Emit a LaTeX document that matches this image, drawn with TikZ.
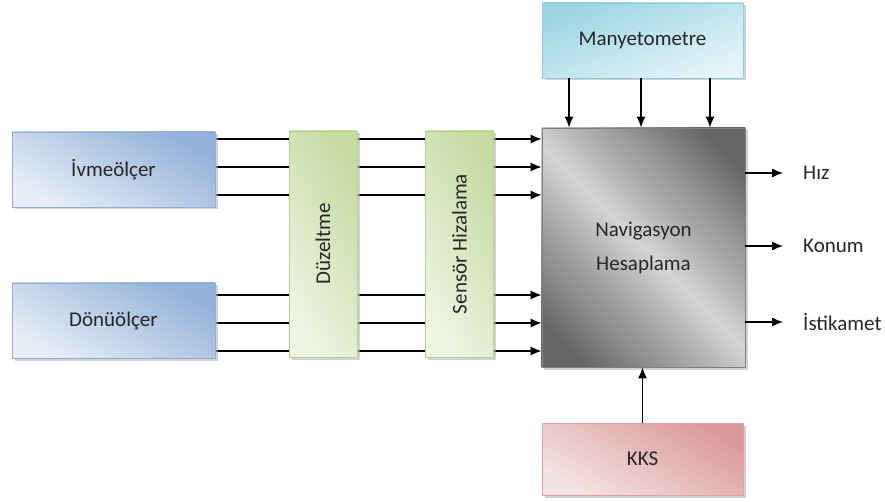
\documentclass[tikz,border=0pt]{standalone}
\usepackage{fontspec}
\setmainfont{Carlito}
\usetikzlibrary{arrows.meta,calc}
\pgfdeclarelayer{bg}
\pgfdeclarelayer{mid}
\pgfsetlayers{bg,mid,main}
\definecolor{txt}{HTML}{262626}
\definecolor{blueD}{HTML}{94B1D9}
\definecolor{blueL}{HTML}{E6EDF6}
\definecolor{blueB}{HTML}{93ACD0}
\definecolor{greenD}{HTML}{C6DAA4}
\definecolor{greenL}{HTML}{EFF5E3}
\definecolor{greenB}{HTML}{B9D08F}
\definecolor{cyanD}{HTML}{9DD5E4}
\definecolor{cyanL}{HTML}{E4F4F8}
\definecolor{cyanB}{HTML}{93CBDB}
\definecolor{pinkD}{HTML}{DB9A9A}
\definecolor{pinkL}{HTML}{F4E2E2}
\definecolor{pinkB}{HTML}{DBA3A3}
\begin{document}
\begin{tikzpicture}[x=1pt,y=-1pt,
  font=\fontsize{21}{34}\selectfont, text=txt,
  box/.style={line width=0.8pt, inner sep=0pt, align=center,
    preaction={fill=black!30, opacity=0.6, transform canvas={xshift=2.5pt,yshift=-2.5pt}}},
  bluebox/.style={box, draw=blueB, shading=axis, top color=blueD, bottom color=blueL, shading angle=-30,
    minimum width=203pt, minimum height=75pt},
  greenbox/.style={box, draw=greenB, shading=axis, top color=greenD, bottom color=greenL, shading angle=-60,
    minimum width=68pt, minimum height=226pt},
  cyanbox/.style={box, draw=cyanB, shading=axis, top color=cyanD, bottom color=cyanL, shading angle=20,
    minimum width=201pt, minimum height=75pt},
  pinkbox/.style={box, draw=pinkB, shading=axis, top color=pinkD, bottom color=pinkL, shading angle=-30,
    minimum width=201pt, minimum height=72pt},
  navbox/.style={line width=0.8pt, inner sep=0pt, align=center, draw=black!50,
    minimum width=203pt, minimum height=239pt},
  conn/.style={line width=1.3pt, black, -{Latex[length=11pt,width=9pt]}},
  outlbl/.style={anchor=west, inner sep=4pt}
]
\useasboundingbox (0,0) rectangle (885,502);

\node[bluebox] (ivme) at (113.5,169.5) {İvmeölçer};
\node[bluebox] (donu) at (113.5,320.5) {Dönüölçer};
\node[greenbox] (duz) at (323,244) {\rotatebox{90}{Düzeltme}};
\node[greenbox] (sens) at (459.5,244) {\rotatebox{90}{Sensör Hizalama}};
\node[navbox] (nav) at (643.5,247.5) {Navigasyon\\Hesaplama};
\node[cyanbox] (many) at (642.5,40.5) {Manyetometre};
\node[pinkbox] (kks) at (642.5,459) {KKS};

\node[outlbl] (hiz) at (799,173) {Hız};
\node[outlbl] (konum) at (799,246) {Konum};
\node[outlbl] (ist) at (799,322) {İstikamet};

\begin{pgfonlayer}{mid}
  \fill[black!30, opacity=0.6] ([xshift=2.5pt,yshift=-2.5pt]nav.south west) rectangle ([xshift=2.5pt,yshift=-2.5pt]nav.north east);
  \begin{scope}
    \clip (nav.south west) rectangle (nav.north east);
    \shade[shading=axis, top color=black!60, bottom color=black!60, middle color=black!17, shading angle=-45]
      ($(nav.center)+(-125,-125)$) rectangle ($(nav.center)+(125,125)$);
  \end{scope}
\end{pgfonlayer}

\begin{pgfonlayer}{bg}
  \foreach \yy in {139,167,195}
    \draw[conn] (ivme.east |- 0,\yy) -- (nav.west |- 0,\yy);
  \foreach \yy in {295,323,351}
    \draw[conn] (donu.east |- 0,\yy) -- (nav.west |- 0,\yy);
\end{pgfonlayer}

\foreach \xx in {569,641,710}
  \draw[conn] (\xx,0 |- many.south) -- (\xx,0 |- nav.north);
\draw[conn] (kks.north) -- (kks.north |- nav.south);

\draw[conn] (nav.east |- hiz.west) -- ([xshift=-16pt]hiz.west);
\draw[conn] (nav.east |- konum.west) -- ([xshift=-16pt]konum.west);
\draw[conn] (nav.east |- ist.west) -- ([xshift=-16pt]ist.west);
\end{tikzpicture}
\end{document}
